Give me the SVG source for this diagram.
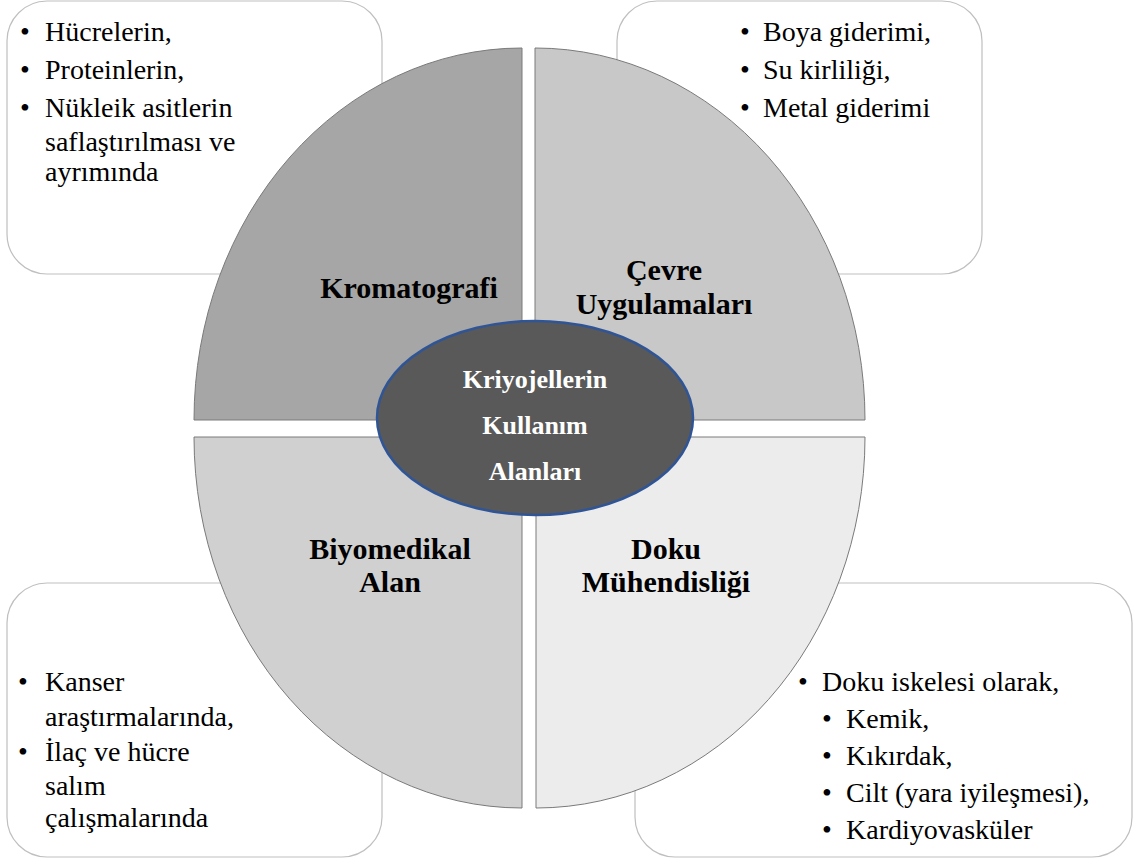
<svg xmlns="http://www.w3.org/2000/svg" width="1135" height="863" viewBox="0 0 1135 863">
<style>
.box{fill:#ffffff;stroke:#bfbfbf;stroke-width:1.2}
.q{stroke:#7a7a7a;stroke-width:1}
.t{font-size:28px;fill:#000}
.h{font-size:30px;font-weight:bold;fill:#000;text-anchor:middle}
.c{font-size:26px;font-weight:bold;fill:#fff;text-anchor:middle}
</style>
<rect width="1135" height="863" fill="#ffffff"/>
<g font-family="'Liberation Serif', 'Times New Roman', Tinos, 'DejaVu Serif', serif">
<g id="box-tl">
<rect class="box" x="7" y="1" width="375" height="273" rx="40"/>
<text class="t"><tspan x="20" y="41">•</tspan><tspan x="45" y="41">Hücrelerin,</tspan></text>
<text class="t"><tspan x="20" y="79">•</tspan><tspan x="45" y="79">Proteinlerin,</tspan></text>
<text class="t"><tspan x="20" y="117">•</tspan><tspan x="45" y="117">Nükleik asitlerin</tspan></text>
<text class="t" x="45" y="151">saflaştırılması ve</text>
<text class="t" x="45" y="181">ayrımında</text>
</g>
<g id="box-tr">
<rect class="box" x="617" y="1" width="365" height="273" rx="40"/>
<text class="t"><tspan x="740" y="41">•</tspan><tspan x="763" y="41">Boya giderimi,</tspan></text>
<text class="t"><tspan x="740" y="79">•</tspan><tspan x="763" y="79">Su kirliliği,</tspan></text>
<text class="t"><tspan x="740" y="117">•</tspan><tspan x="763" y="117">Metal giderimi</tspan></text>
</g>
<g id="box-bl">
<rect class="box" x="7" y="583" width="375" height="274" rx="40"/>
<text class="t"><tspan x="18" y="691">•</tspan><tspan x="45" y="691">Kanser</tspan></text>
<text class="t" x="45" y="726">araştırmalarında,</text>
<text class="t"><tspan x="18" y="761">•</tspan><tspan x="45" y="761">İlaç ve hücre</tspan></text>
<text class="t" x="45" y="795">salım</text>
<text class="t" x="45" y="827">çalışmalarında</text>
</g>
<g id="box-br">
<rect class="box" x="635" y="583" width="497" height="274" rx="40"/>
<text class="t"><tspan x="798" y="691">•</tspan><tspan x="822" y="691">Doku iskelesi olarak,</tspan></text>
<text class="t"><tspan x="822" y="728">•</tspan><tspan x="846" y="728">Kemik,</tspan></text>
<text class="t"><tspan x="822" y="765">•</tspan><tspan x="846" y="765">Kıkırdak,</tspan></text>
<text class="t"><tspan x="822" y="802">•</tspan><tspan x="846" y="802">Cilt (yara iyileşmesi),</tspan></text>
<text class="t"><tspan x="822" y="839">•</tspan><tspan x="846" y="839">Kardiyovasküler</tspan></text>
</g>
<g id="q-kromatografi">
<path class="q" fill="#a6a6a6" d="M522,420 L194,420 A328,372 0 0 1 522,48 Z"/>
<text class="h" x="409" y="298">Kromatografi</text>
</g>
<g id="q-cevre">
<path class="q" fill="#c8c8c8" d="M535,420 L535,48 A330,372 0 0 1 865,420 Z"/>
<text class="h" x="664" y="280">Çevre</text>
<text class="h" x="664" y="314">Uygulamaları</text>
</g>
<g id="q-biyomedikal">
<path class="q" fill="#d0d0d0" d="M522,437 L522,808 A328,371 0 0 1 194,437 Z"/>
<text class="h" x="390" y="559">Biyomedikal</text>
<text class="h" x="390" y="592">Alan</text>
</g>
<g id="q-doku">
<path class="q" fill="#ececec" d="M536,437 L865,437 A329,371 0 0 1 536,808 Z"/>
<text class="h" x="666" y="559">Doku</text>
<text class="h" x="666" y="592">Mühendisliği</text>
</g>
<g id="center">
<ellipse cx="535" cy="418" rx="158" ry="97" fill="#595959" stroke="#2f5597" stroke-width="2.5"/>
<text class="c" x="535" y="388">Kriyojellerin</text>
<text class="c" x="535" y="434">Kullanım</text>
<text class="c" x="535" y="480">Alanları</text>
</g>
</g>
<g id="connectors"/>
</svg>
